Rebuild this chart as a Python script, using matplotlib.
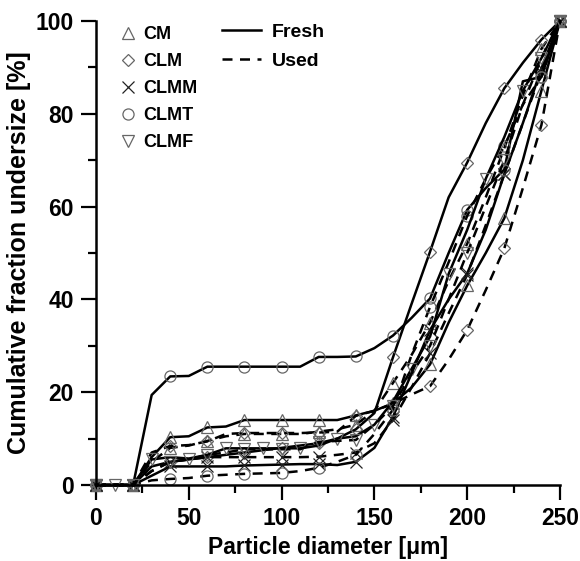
import matplotlib
matplotlib.use('Agg')
import matplotlib.pyplot as plt
from matplotlib.lines import Line2D

plt.rcParams['font.family'] = ['Liberation Sans', 'DejaVu Sans']
plt.rcParams['font.weight'] = 'bold'

# particle diameter [um]
diam = [0, 10, 20, 30, 40, 50, 60, 70, 80, 90, 100, 110, 120, 130, 140,
        150, 160, 170, 180, 190, 200, 210, 220, 230, 240, 250]

# cumulative fraction undersize [%]
cm_fresh = [0, 0, 0, 6, 10.3, 10.5, 12.4, 12.6, 14, 14, 14, 14, 14, 14, 15,
            16, 17.6, 21, 26, 35, 43, 50, 57.5, 70, 85, 100]
cm_used = [0, 0, 0, 5, 8, 8.5, 9.5, 10.5, 11, 11, 11, 11, 11.5, 12, 13,
           16, 22, 28, 35, 44, 52, 62, 72.6, 84, 94, 100]
clm_fresh = [0, 0, 0, 4, 5, 5.5, 6, 6.5, 7, 7.5, 8, 8.5, 9, 10, 12,
             15.5, 27.5, 39, 50.3, 62, 69.5, 78, 85.5, 91, 96, 100]
clm_used = [0, 0, 0, 7, 8.4, 8.6, 9.4, 11, 11.2, 11.2, 11.2, 11.2, 11.3, 11.5, 14.9,
            16, 17.5, 19.5, 21.3, 27, 33.4, 42, 51, 64, 77.6, 100]
clmm_fresh = [0, 0, 0, 2, 4, 4, 4, 4, 4.2, 4.3, 4.4, 4.5, 4.5, 4.3, 5,
              8, 14.7, 24, 33.4, 40, 45.6, 55, 67, 78, 89.8, 100]
clmm_used = [0, 0, 0, 3, 5, 5.5, 6, 6, 6, 6, 6, 6, 6.1, 6.5, 7,
             9, 14, 21, 28.4, 37, 45.3, 56, 67, 78, 89, 100]
clmt_fresh = [0, 0, 0, 19.4, 23.4, 23.5, 25.5, 25.5, 25.5, 25.5, 25.5, 25.5, 27.6, 27.6, 27.7,
              29.5, 32.2, 36, 40.2, 50, 59.3, 64, 68, 87, 88, 100]
clmt_used = [0, 0, 0, 1, 1.3, 1.5, 2, 2.2, 2.4, 2.5, 2.6, 3, 3.7, 5, 6.5,
             11, 16.2, 28, 38.4, 48, 58, 66, 73, 82, 88, 100]
clmf_fresh = [0, 0, 0, 5.5, 6, 5.7, 6.5, 7.9, 7.9, 7.9, 7.9, 7.9, 8.5, 10, 10.5,
              13, 18, 25, 32, 45.5, 55, 66, 75, 85, 92, 100]
clmf_used = [0, 0, 0, 3, 5, 5.5, 6.5, 7, 7.7, 7.7, 7.7, 7.7, 9.3, 9.5, 9.7,
             13, 17, 24, 30, 40, 50, 60, 70, 82, 92, 100]

even = list(range(0, 25, 2)) + [25]
odd = [0] + list(range(1, 26, 2))

series = [
    (cm_fresh, '^', '-', even), (cm_used, '^', '--', even),
    (clm_fresh, 'D', '-', even), (clm_used, 'D', '--', even),
    (clmm_fresh, 'x', '-', even), (clmm_used, 'x', '--', even),
    (clmt_fresh, 'o', '-', even), (clmt_used, 'o', '--', even),
    (clmf_fresh, 'v', '-', odd), (clmf_used, 'v', '--', even),
]

mcol = '#666666'

fig = plt.figure(figsize=(5.8, 5.61), dpi=100)
ax = fig.add_axes([0.1655, 0.1355, 0.8, 0.827])

for y, mk, ls, me in series:
    ms = 6 if mk == 'D' else 8
    ax.plot(diam, y, color='black', linestyle=ls, linewidth=1.8,
            dashes=(4, 3) if ls == '--' else (None, None),
            marker=mk, markevery=me, markersize=ms, markerfacecolor='none',
            markeredgecolor=mcol if mk != 'x' else '#222222',
            markeredgewidth=0.9, clip_on=False)

ax.set_xlim(0, 250)
ax.set_ylim(0, 100)
ax.set_xticks(range(0, 251, 50))
ax.set_xticks(range(25, 250, 50), minor=True)
ax.set_yticks(range(0, 101, 20))
ax.set_yticks(range(10, 100, 20), minor=True)
ax.spines['top'].set_visible(False)
ax.spines['right'].set_visible(False)
for s in ['left', 'bottom']:
    ax.spines[s].set_linewidth(1.8)
ax.tick_params(which='major', direction='out', length=11, width=1.6, labelsize=16.5, pad=5)
ax.tick_params(which='minor', direction='out', length=6, width=1.6)
for lab in ax.get_xticklabels() + ax.get_yticklabels():
    lab.set_fontweight('bold')

ax.set_xlabel('Particle diameter [\u03bcm]', fontsize=16.5, fontweight='bold', labelpad=4)
ax.set_ylabel('Cumulative fraction undersize [%]', fontsize=18, fontweight='bold', labelpad=3)

names = ['CM', 'CLM', 'CLMM', 'CLMT', 'CLMF']
marks = ['^', 'D', 'x', 'o', 'v']
h1 = [Line2D([], [], linestyle='none', marker=m, markersize=6 if m == 'D' else 8,
             markerfacecolor='none', markeredgecolor=mcol if m != 'x' else '#222222',
             markeredgewidth=0.9) for m in marks]
leg1 = ax.legend(h1, names, loc='upper left', bbox_to_anchor=(0.033, 1.005), frameon=False,
                 prop={'weight': 'bold', 'size': 13}, handlelength=1.0,
                 handletextpad=0.35, labelspacing=0.56, borderaxespad=0)
ax.add_artist(leg1)
h2 = [Line2D([], [], color='black', linewidth=1.8),
      Line2D([], [], color='black', linewidth=1.8, linestyle='--', dashes=(4, 3))]
ax.legend(h2, ['Fresh', 'Used'], loc='upper left', bbox_to_anchor=(0.255, 1.012), frameon=False,
          prop={'weight': 'bold', 'size': 14}, handlelength=2.0,
          handletextpad=0.55, labelspacing=0.6, borderaxespad=0)

fig.savefig('out.png', dpi=100)
